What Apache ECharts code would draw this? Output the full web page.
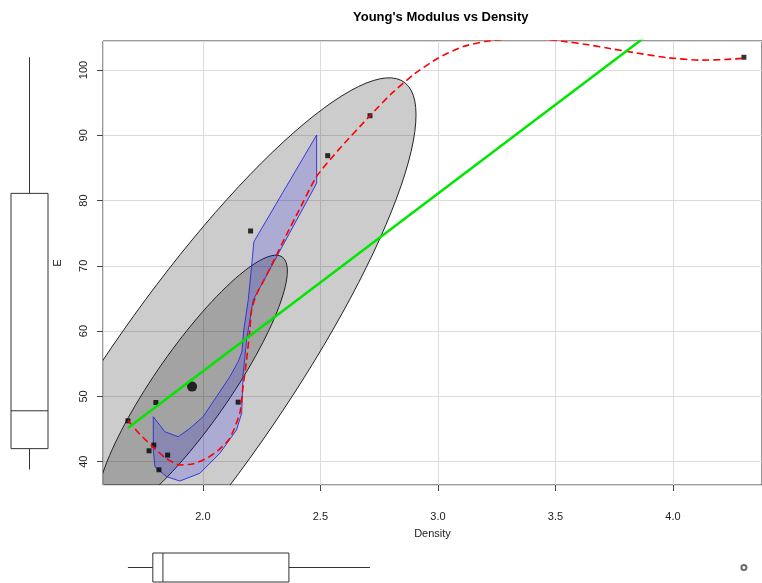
<!DOCTYPE html>
<html lang="en">
<head>
    <meta charset="UTF-8">
    <title>Young's Modulus vs Density</title>
    <script src="https://cdn.jsdelivr.net/npm/echarts@6/dist/echarts.min.js"></script>
    <style>
        body { margin: 0; background: #fff; }
        #main { width: 762px; height: 583px; }
    </style>
</head>
<body>
<div id="main"></div>
<script>
    // observations
    let density = [1.681, 1.800, 1.791, 1.771, 1.850, 1.813, 2.150, 2.203, 2.531, 2.711, 4.302];
    let modulus = [46.26, 49.07, 42.54, 41.67, 41.01, 38.76, 49.12, 75.34, 86.87, 93.0, 101.95];
    // robust centre (big dot) and ellipse shape
    let centre = [1.954, 51.5];
    let spread = [0.3326, 16.51];
    let rho = 0.88;
    let radii = [2.865, 1.219]; // 95% then 50%
    // smoother (red dashed)
    let curveDensity = [1.681, 1.732, 1.787, 1.84, 1.902, 1.96, 2.02, 2.07, 2.115, 2.157, 2.171, 2.186, 2.200, 2.207, 2.228, 2.26, 2.299, 2.356, 2.406, 2.484, 2.583, 2.711, 2.80, 2.90, 3.00, 3.108, 3.207, 3.33, 3.45, 3.532, 3.633, 3.745, 3.846, 3.974, 4.115, 4.22, 4.302];
    let curveModulus = [46.3, 44.2, 42.3, 40.6, 39.5, 39.7, 40.6, 41.9, 43.6, 47.4, 51.5, 55.6, 60.2, 63.2, 65.6, 67.8, 70.6, 74.8, 78.3, 83.7, 88.0, 93.0, 96.3, 99.4, 101.8, 103.6, 104.4, 104.8, 104.7, 104.4, 103.9, 103.2, 102.6, 101.9, 101.5, 101.6, 101.8];
    // blue band
    let bandDensity = [2.484, 2.484, 2.214, 2.200, 2.186, 2.171, 2.165, 2.143, 2.072, 1.987, 1.902, 1.846, 1.796, 1.789, 1.789, 1.838, 1.895, 1.945, 2.001, 2.058, 2.115, 2.150, 2.166, 2.174, 2.193, 2.207, 2.217];
    let bandModulus = [90.04, 82.64, 64.77, 61.70, 58.64, 53.28, 47.41, 44.85, 41.28, 38.22, 37.04, 37.70, 39.23, 41.79, 46.89, 44.59, 43.83, 45.11, 46.89, 49.95, 53.02, 55.32, 56.80, 60.17, 64.77, 69.87, 73.70];
    // least squares line
    let fitDensity = [1.681, 4.302];
    let fitModulus = [45.16, 116.5];
    // marginal boxplots: [low, q1, median, q3, high]
    let boxModulus = [38.8, 42.0, 47.8, 81.1, 101.95];
    let boxDensity = [1.681, 1.787, 1.830, 2.366, 2.711];
    let densityOutliers = [4.302];

    let xRange = [1.575, 4.379];
    let yRange = [36.43, 104.44];

    let myChart = echarts.init(document.getElementById('main'));

    let clipTo = function (cs) {
        return {type: 'rect', shape: {x: cs.x, y: cs.y, width: cs.width, height: cs.height}};
    };

    let ellipseItem = function (params, api) {
        let r = api.value(2);
        let pts = [];
        for (let i = 0; i < 120; i++) {
            let t = i / 120 * Math.PI * 2;
            let x = api.value(0) + r * spread[0] * Math.cos(t);
            let y = api.value(1) + r * spread[1] * (rho * Math.cos(t) + Math.sqrt(1 - rho * rho) * Math.sin(t));
            pts.push(api.coord([x, y]));
        }
        return {
            type: 'polygon',
            shape: {points: pts},
            style: {fill: 'rgba(0,0,0,0.2)', stroke: '#222', lineWidth: 1},
            clipPath: clipTo(params.coordSys)
        };
    };

    let bandItem = function (params, api) {
        if (params.dataIndex !== 0) return;
        let pts = bandDensity.map((d, i) => api.coord([d, bandModulus[i]]));
        return {
            type: 'polygon',
            shape: {points: pts},
            style: {fill: 'rgba(0,0,255,0.16)', stroke: '#2a2ad8', lineWidth: 0.9},
            clipPath: clipTo(params.coordSys)
        };
    };

    let boxItem = function (horizontal, w) {
        return function (params, api) {
            let v = [1, 2, 3, 4, 5].map(k => api.value(k));
            let at = function (val) {
                return horizontal ? api.coord([val, 0]) : api.coord([0, val]);
            };
            let p = v.map(at);
            let style = {stroke: '#333', lineWidth: 1, fill: 'none'};
            let kids;
            if (horizontal) {
                let c = p[0][1];
                kids = [
                    {type: 'line', shape: {x1: p[0][0], y1: c, x2: p[1][0], y2: c}, style},
                    {type: 'line', shape: {x1: p[3][0], y1: c, x2: p[4][0], y2: c}, style},
                    {type: 'rect', shape: {x: p[1][0], y: c - w / 2, width: p[3][0] - p[1][0], height: w}, style: {stroke: '#333', lineWidth: 1, fill: '#fff'}},
                    {type: 'line', shape: {x1: p[2][0], y1: c - w / 2, x2: p[2][0], y2: c + w / 2}, style}
                ];
            } else {
                let c = p[0][0];
                kids = [
                    {type: 'line', shape: {x1: c, y1: p[0][1], x2: c, y2: p[1][1]}, style},
                    {type: 'line', shape: {x1: c, y1: p[3][1], x2: c, y2: p[4][1]}, style},
                    {type: 'rect', shape: {x: c - w / 2, y: p[3][1], width: w, height: p[1][1] - p[3][1]}, style: {stroke: '#333', lineWidth: 1, fill: '#fff'}},
                    {type: 'line', shape: {x1: c - w / 2, y1: p[2][1], x2: c + w / 2, y2: p[2][1]}, style}
                ];
            }
            return {type: 'group', children: kids};
        };
    };

    let labelFont = {fontFamily: 'Liberation Sans, Arial, sans-serif', fontSize: 11, color: '#222'};

    let option = {
        backgroundColor: '#fff',
        animation: false,
        title: {
            text: "Young's Modulus vs Density",
            left: 348,
            top: 6,
            textStyle: {fontFamily: 'Liberation Sans, Arial, sans-serif', fontSize: 13, fontWeight: 'bold', color: '#000'}
        },
        grid: [
            {left: 103, right: 0, top: 41, bottom: 98, show: true, borderColor: '#333', borderWidth: 1},
            {left: 0, width: 59, top: 41, bottom: 98},
            {left: 103, right: 0, top: 552, height: 31}
        ],
        xAxis: [
            {
                type: 'value', gridIndex: 0, min: xRange[0], max: xRange[1], splitNumber: 5,
                name: 'Density', nameLocation: 'middle', nameGap: 43,
                nameTextStyle: labelFont,
                axisLine: {show: false},
                axisTick: {show: true, length: 6, lineStyle: {color: '#444'}},
                axisLabel: Object.assign({margin: 26, showMinLabel: false, showMaxLabel: false, formatter: v => v.toFixed(1)}, labelFont),
                splitLine: {show: true, lineStyle: {color: '#dcdcdc', width: 1}}
            },
            {type: 'category', gridIndex: 1, data: ['E'], show: false},
            {type: 'value', gridIndex: 2, min: xRange[0], max: xRange[1], show: false}
        ],
        yAxis: [
            {
                type: 'value', gridIndex: 0, min: yRange[0], max: yRange[1], splitNumber: 6,
                name: 'E', nameLocation: 'middle', nameGap: 40,
                nameTextStyle: labelFont,
                axisLine: {show: false},
                axisTick: {show: true, length: 6, lineStyle: {color: '#444'}},
                axisLabel: Object.assign({rotate: 90, margin: 14, showMinLabel: false, showMaxLabel: false}, labelFont),
                splitLine: {show: true, lineStyle: {color: '#dcdcdc', width: 1}}
            },
            {type: 'value', gridIndex: 1, min: yRange[0], max: yRange[1], show: false},
            {type: 'category', gridIndex: 2, data: ['Density'], show: false}
        ],
        series: [
            {
                type: 'custom', xAxisIndex: 0, yAxisIndex: 0, clip: true,
                renderItem: ellipseItem,
                data: radii.map(r => [centre[0], centre[1], r])
            },
            {
                type: 'line', xAxisIndex: 0, yAxisIndex: 0, clip: true,
                data: curveDensity.map((d, i) => [d, curveModulus[i]]),
                smooth: 0.2, showSymbol: false,
                lineStyle: {color: '#ff0000', width: 1.6, type: [7, 4]}
            },
            {
                type: 'custom', xAxisIndex: 0, yAxisIndex: 0, clip: true,
                renderItem: bandItem,
                data: bandDensity.map((d, i) => [d, bandModulus[i]])
            },
            {
                type: 'line', xAxisIndex: 0, yAxisIndex: 0, clip: true,
                data: fitDensity.map((d, i) => [d, fitModulus[i]]),
                showSymbol: false,
                lineStyle: {color: '#00e600', width: 2.5}
            },
            {
                type: 'scatter', xAxisIndex: 0, yAxisIndex: 0,
                data: density.map((d, i) => [d, modulus[i]]),
                symbol: 'rect', symbolSize: 5,
                itemStyle: {color: '#000'}
            },
            {
                type: 'scatter', xAxisIndex: 0, yAxisIndex: 0,
                data: [centre],
                symbol: 'circle', symbolSize: 10,
                itemStyle: {color: '#000'}
            },
            {
                type: 'custom', xAxisIndex: 1, yAxisIndex: 1,
                renderItem: boxItem(false, 37),
                data: [[0].concat(boxModulus)]
            },
            {
                type: 'custom', xAxisIndex: 2, yAxisIndex: 2,
                renderItem: boxItem(true, 29),
                data: [[0].concat(boxDensity)]
            },
            {
                type: 'scatter', xAxisIndex: 2, yAxisIndex: 2,
                data: densityOutliers.map(d => [d, 0]),
                symbol: 'emptyCircle', symbolSize: 5,
                itemStyle: {color: '#444', borderWidth: 1}
            }
        ]
    };
    myChart.setOption(option);
</script>
</body>
</html>
